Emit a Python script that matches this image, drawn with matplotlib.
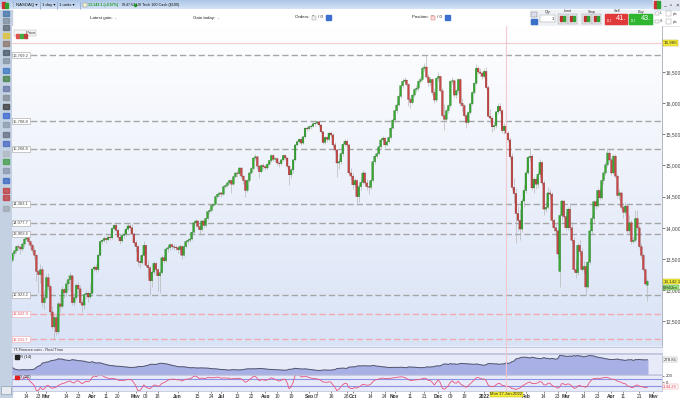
import numpy as np
import pandas as pd
import matplotlib
matplotlib.use('Agg')
import matplotlib.pyplot as plt
from matplotlib.colors import LinearSegmentedColormap
from matplotlib.patches import Rectangle

plt.rcParams['font.family'] = ['Liberation Sans', 'DejaVu Sans']

W, H = 680, 398
start_date = '2021-02-04'

opens = [
13480, 13590, 13630, 13700, 13690, 13660, 13740, 13820, 13860, 13780,
13720, 13640, 13560, 13300, 13250, 13330, 12800, 12880, 13200, 13060,
12650, 12410, 12560, 12330, 12780, 12740, 13010, 12960, 13100, 13170,
13230, 12800, 12880, 13080, 13020, 12800, 12760, 12930, 12950, 12890,
12950, 13340, 13370, 13330, 13560, 13780, 13800, 13830, 13810, 13850,
13840, 13990, 14040, 13960, 13850, 13790, 13880, 13900, 13980, 14030,
14000, 13900, 13760, 13700, 13460, 13440, 13560, 13720, 13400, 13360,
13150, 13290, 13430, 13330, 13230, 13280, 13520, 13470, 13660, 13680,
13730, 13700, 13690, 13680, 13650, 13700, 13560, 13700, 13780, 13800,
13820, 13930, 14080, 14110, 14020, 13970, 14110, 14040, 14150, 14260,
14280, 14360, 14380, 14500, 14540, 14560, 14540, 14660, 14680, 14720,
14760, 14700, 14820, 14880, 14870, 14960, 14830, 14760, 14600, 14760,
14880, 14950, 15120, 15140, 14990, 14900, 15000, 14980, 14960, 15020,
15080, 15160, 15100, 15110, 15040, 15030, 15090, 15160, 15120, 14990,
14850, 14930, 15090, 15330, 15380, 15420, 15360, 15460, 15600, 15590,
15620, 15630, 15670, 15680, 15700, 15650, 15540, 15370, 15450, 15420,
15520, 15490, 15330, 15250, 15040, 15060, 15190, 15340, 15390, 15330,
14880, 14830, 14690, 14760, 14500, 14660, 14730, 14880, 14720, 14660,
14650, 14760, 15060, 15150, 15190, 15300, 15410, 15440, 15330, 15380,
15450, 15600, 15730, 15880, 15970, 16110, 16280, 16350, 16370, 16300,
16060, 16010, 16130, 16220, 16240, 16350, 16380, 16560, 16580, 16420,
16330, 16380, 16170, 16050, 16400, 16430, 16200, 15800, 15740, 15880,
15960, 16350, 16360, 16130, 16200, 16380, 16000, 15960, 15800, 15690,
15850, 15990, 16170, 16320, 16560, 16500, 16480, 16430, 16510, 16250,
15790, 15760, 15620, 15640, 15860, 15950, 15880, 15560, 15630, 15520,
15410, 15140, 14650, 14550, 14230, 14120, 13980, 14430, 14600, 14880,
15130, 15150, 14640, 14780, 14700, 14860, 15050, 14720, 14300, 14330,
14560, 14540, 14120, 14000, 13950, 13300, 14200, 14430, 14180, 14000,
14300, 14000, 13800, 13330, 13280, 13720, 13620, 13330, 13380, 13050,
13450, 13950, 14150, 14420, 14350, 14600, 14480, 14760, 14880, 15010,
15200, 15090, 14880, 15150, 14830, 14520, 14560, 14330, 14250, 14350,
13950, 14080, 13780, 13800, 14150, 14000, 13700, 13560, 13330, 13080,
]

highs = [
13620, 13660, 13720, 13740, 13720, 13770, 13840, 13905, 13880, 13800,
13760, 13700, 13580, 13330, 13420, 13380, 13000, 13260, 13280, 13100,
12750, 12600, 12640, 12830, 12900, 13070, 13040, 13160, 13240, 13290,
13250, 12960, 13120, 13130, 13080, 12860, 12960, 13000, 12990, 13110,
13360, 13400, 13420, 13600, 13800, 13840, 13870, 13860, 13900, 13900,
14020, 14080, 14060, 13990, 13900, 13920, 13960, 14020, 14080, 14060,
14060, 13940, 13800, 13720, 13560, 13600, 13790, 13730, 13480, 13380,
13330, 13470, 13450, 13350, 13320, 13560, 13570, 13680, 13720, 13760,
13760, 13740, 13720, 13700, 13740, 13720, 13720, 13800, 13830, 13860,
13950, 14110, 14140, 14130, 14060, 14130, 14130, 14170, 14280, 14320,
14380, 14400, 14520, 14560, 14580, 14570, 14680, 14700, 14750, 14780,
14790, 14840, 14900, 14920, 14980, 14970, 14850, 14780, 14780, 14900,
14980, 15140, 15180, 15150, 15010, 15030, 15040, 15000, 15040, 15090,
15180, 15190, 15140, 15130, 15070, 15110, 15180, 15190, 15130, 15000,
14960, 15110, 15350, 15410, 15440, 15450, 15480, 15620, 15640, 15650,
15660, 15690, 15700, 15720, 15710, 15660, 15560, 15470, 15480, 15540,
15560, 15520, 15370, 15260, 15120, 15220, 15360, 15420, 15420, 15340,
14960, 14880, 14800, 14780, 14700, 14780, 14920, 14900, 14780, 14740,
14790, 15080, 15170, 15220, 15320, 15430, 15470, 15460, 15400, 15470,
15620, 15760, 15900, 16000, 16140, 16310, 16400, 16420, 16390, 16320,
16100, 16150, 16250, 16290, 16370, 16420, 16590, 16640, 16770, 16460,
16420, 16400, 16220, 16420, 16500, 16440, 16240, 15990, 15900, 15990,
16370, 16420, 16380, 16230, 16410, 16400, 16080, 15990, 15830, 15870,
16010, 16190, 16340, 16630, 16600, 16560, 16520, 16560, 16580, 16290,
15900, 15800, 15720, 15880, 16010, 16000, 15900, 15680, 15660, 15550,
15450, 15200, 14800, 14640, 14350, 14300, 14480, 14680, 14920, 15160,
15280, 15180, 14820, 14830, 14900, 15100, 15080, 14760, 14420, 14650,
14620, 14580, 14160, 14080, 14000, 14230, 14470, 14450, 14250, 14330,
14400, 14080, 13850, 13500, 13760, 13800, 13680, 13460, 13420, 13480,
13980, 14200, 14450, 14450, 14640, 14650, 14790, 14910, 15060, 15280,
15250, 15140, 15190, 15180, 14860, 14620, 14580, 14400, 14420, 14370,
14200, 14120, 13860, 14290, 14290, 14040, 13760, 13600, 13360, 13180,
]

lows = [
13450, 13540, 13600, 13640, 13580, 13630, 13700, 13800, 13740, 13660,
13600, 13500, 13150, 12960, 13120, 12730, 12700, 12860, 13000, 12600,
12380, 12210, 12280, 12300, 12650, 12720, 12880, 12900, 13010, 12990,
12760, 12740, 12850, 12960, 12770, 12650, 12700, 12870, 12810, 12870,
12940, 13300, 13290, 13310, 13540, 13740, 13770, 13760, 13790, 13800,
13820, 13960, 13930, 13800, 13740, 13770, 13840, 13870, 13950, 13960,
13880, 13720, 13620, 13380, 13350, 13420, 13540, 13380, 13200, 12925,
13050, 13260, 13250, 12980, 12960, 13260, 13440, 13450, 13620, 13650,
13660, 13650, 13640, 13600, 13620, 13500, 13540, 13680, 13740, 13770,
13800, 13910, 14050, 13980, 13880, 13950, 14000, 14020, 14130, 14220,
14260, 14330, 14360, 14480, 14500, 14500, 14530, 14640, 14660, 14700,
14560, 14690, 14800, 14820, 14850, 14800, 14700, 14500, 14580, 14740,
14860, 14930, 15090, 14950, 14800, 14880, 14940, 14920, 14940, 15000,
15060, 15080, 15050, 15010, 14980, 15010, 15070, 15090, 14960, 14690,
14800, 14880, 15070, 15310, 15360, 15330, 15340, 15440, 15560, 15570,
15590, 15610, 15640, 15660, 15620, 15520, 15340, 15350, 15380, 15400,
15460, 15300, 15220, 14820, 14950, 15020, 15150, 15320, 15290, 14860,
14760, 14620, 14660, 14400, 14420, 14600, 14700, 14680, 14600, 14540,
14620, 14740, 15030, 15120, 15170, 15270, 15380, 15300, 15310, 15360,
15430, 15580, 15700, 15850, 15950, 16090, 16250, 16300, 16270, 15950,
15930, 15990, 16100, 16180, 16200, 16320, 16360, 16520, 16400, 16280,
16280, 16130, 16000, 16020, 16350, 16180, 15770, 15570, 15690, 15840,
15940, 16300, 16100, 16080, 16170, 15960, 15870, 15780, 15600, 15660,
15830, 15970, 16150, 16300, 16460, 16440, 16380, 16400, 16230, 15770,
15680, 15540, 15570, 15600, 15830, 15850, 15520, 15500, 15170, 15380,
15100, 14600, 14400, 13760, 13950, 13800, 13940, 14330, 14560, 14860,
15080, 14600, 14560, 14620, 14640, 14820, 14690, 14200, 14260, 14300,
14460, 14080, 13950, 13850, 13520, 13050, 14130, 14150, 13960, 13970,
13960, 13760, 13300, 13200, 13250, 13560, 13300, 13280, 12920, 13030,
13420, 13900, 14100, 14300, 14330, 14450, 14460, 14700, 14850, 14980,
15050, 14850, 14860, 14800, 14480, 14450, 14300, 14160, 14200, 13920,
13900, 13740, 13760, 13780, 13960, 13680, 13520, 13300, 13080, 12820,
]

closes = [
13590, 13630, 13700, 13690, 13660, 13740, 13820, 13860, 13780, 13720,
13640, 13560, 13300, 13250, 13330, 12800, 12880, 13200, 13060, 12650,
12410, 12560, 12330, 12780, 12740, 13010, 12960, 13100, 13170, 13230,
12800, 12880, 13080, 13020, 12800, 12760, 12930, 12950, 12890, 12950,
13340, 13370, 13330, 13560, 13780, 13800, 13830, 13810, 13850, 13840,
13990, 14040, 13960, 13850, 13790, 13880, 13900, 13980, 14030, 14000,
13900, 13760, 13700, 13460, 13440, 13560, 13720, 13400, 13360, 13150,
13290, 13430, 13330, 13230, 13280, 13520, 13470, 13660, 13680, 13730,
13700, 13690, 13680, 13650, 13700, 13560, 13700, 13780, 13800, 13820,
13930, 14080, 14110, 14020, 13970, 14110, 14040, 14150, 14260, 14280,
14360, 14380, 14500, 14540, 14560, 14540, 14660, 14680, 14720, 14760,
14700, 14820, 14880, 14870, 14960, 14830, 14760, 14600, 14760, 14880,
14950, 15120, 15140, 14990, 14900, 15000, 14980, 14960, 15020, 15080,
15160, 15100, 15110, 15040, 15030, 15090, 15160, 15120, 14990, 14850,
14930, 15090, 15330, 15380, 15420, 15360, 15460, 15600, 15590, 15620,
15630, 15670, 15680, 15700, 15650, 15540, 15370, 15450, 15420, 15520,
15490, 15330, 15250, 15040, 15060, 15190, 15340, 15390, 15330, 14880,
14830, 14690, 14760, 14500, 14660, 14730, 14880, 14720, 14660, 14650,
14760, 15060, 15150, 15190, 15300, 15410, 15440, 15330, 15380, 15450,
15600, 15730, 15880, 15970, 16110, 16280, 16350, 16370, 16300, 16060,
16010, 16130, 16220, 16240, 16350, 16380, 16560, 16580, 16420, 16330,
16380, 16170, 16050, 16400, 16430, 16200, 15800, 15740, 15880, 15960,
16350, 16360, 16130, 16200, 16380, 16000, 15960, 15800, 15690, 15850,
15990, 16170, 16320, 16560, 16500, 16480, 16430, 16510, 16250, 15790,
15760, 15620, 15640, 15860, 15950, 15880, 15560, 15630, 15520, 15410,
15140, 14650, 14550, 14230, 14120, 13980, 14430, 14600, 14880, 15130,
15150, 14640, 14780, 14700, 14860, 15050, 14720, 14300, 14330, 14560,
14540, 14120, 14000, 13950, 13580, 14200, 14430, 14180, 14000, 14300,
14000, 13800, 13330, 13280, 13720, 13620, 13330, 13380, 13050, 13450,
13950, 14150, 14420, 14350, 14600, 14480, 14760, 14880, 15010, 15200,
15090, 14880, 15150, 14830, 14520, 14560, 14330, 14250, 14350, 13950,
14080, 13780, 13800, 14150, 14000, 13700, 13560, 13330, 13100, 13142.1,
]

level_grey = [16769.2, 15708.8, 15268.8, 14383.1, 14077.7, 13903.6, 12923.2]
level_pink = [12622.9, 12211.7]
price_ticks = [12500, 13000, 13500, 14000, 14500, 15000, 15500, 16000, 16500]
last_price = 13142.1
cursor_price = 16965
cursor_date = '2022-01-17'
atr_last_text = '278.85'
cci_last_text = '-144.29'
cci_ticks = [200, 0]

date_ticks = ['2021-02-14', '2021-02-23', '2021-03-01', '2021-03-14', '2021-03-23',
              '2021-04-01', '2021-04-11', '2021-04-20', '2021-05-01', '2021-05-09',
              '2021-05-18', '2021-06-01', '2021-06-15', '2021-06-24', '2021-07-01',
              '2021-07-13', '2021-07-22', '2021-08-01', '2021-08-10', '2021-08-19',
              '2021-09-01', '2021-09-07', '2021-09-16', '2021-09-28', '2021-10-01',
              '2021-10-14', '2021-10-24', '2021-11-01', '2021-11-11', '2021-11-21',
              '2021-12-01', '2021-12-09', '2021-12-19', '2022-01-01', '2022-02-01',
              '2022-02-14', '2022-02-23', '2022-03-01', '2022-03-14', '2022-03-23',
              '2022-04-01', '2022-04-11', '2022-04-21', '2022-05-01']
date_labels = ['14', '23', 'Mar', '14', '23', 'Apr', '11', '20', 'May', '09', '18',
               'Jun', '15', '24', 'Jul', '13', '22', 'Aug', '10', '19', 'Sep', '07',
               '16', '28', 'Oct', '14', '24', 'Nov', '11', '21', 'Dec', '09', '19',
               '2022', 'Feb', '14', '23', 'Mar', '14', '23', 'Apr', '11', '21', 'May']

O = np.array(opens, float)
Hi = np.array(highs, float)
Lo = np.array(lows, float)
C = np.array(closes, float)
n = len(C)
x = np.arange(n)

fig = plt.figure(figsize=(W / 100, H / 100), dpi=100)
fig.patch.set_facecolor('white')


def rect(x0, y0, x1, y1):
    return [x0 / W, 1 - y1 / H, (x1 - x0) / W, (y1 - y0) / H]


bg = fig.add_axes([0, 0, 1, 1], label='bg', zorder=0)
bg.set_xlim(0, W); bg.set_ylim(H, 0); bg.axis('off')

# --- window chrome ---
tb = LinearSegmentedColormap.from_list('tb', ['#a9c3e6', '#d4e3f6'])
bg.imshow(np.linspace(0, 1, 32).reshape(-1, 1), extent=[0, W, 9.5, 0], cmap=tb,
          aspect='auto', zorder=0)
bg.add_patch(Rectangle((653, 0), 27, 9.5, color='#dfe6ef', zorder=1))
bg.add_patch(Rectangle((0, 9.5), 12, H - 9.5, color='#c3d1e2', zorder=1))
bg.add_patch(Rectangle((12, 346), 650, 7, color='#eceff9', zorder=1))
bg.plot([12, 662], [346.5, 346.5], color='#b9c0d8', lw=0.6, zorder=2)
bg.plot([12, 662], [353, 353], color='#b9c0d8', lw=0.6, zorder=2)
bg.plot([0, 680], [26, 26], color='#d8dde6', lw=0.5, zorder=2)

# toolbar icons (left)
icon_y = [13, 20, 27, 35, 43, 52, 60, 70, 78, 88, 97, 106, 115, 124, 134, 143, 153,
          161, 170, 180, 190, 197, 208]
icon_c = ['#3a6ea5', '#7a8a9a', '#55606a', '#e0c020', '#8a7060', '#405060', '#8090a0',
          '#3070c0', '#3a7a3a', '#6070a0', '#808890', '#303030', '#3060d0', '#8898a8',
          '#606878', '#4060c0', '#b0b8c0', '#3a9a3a', '#8890a8', '#3060c0', '#c03030',
          '#c03030', '#a0a8b0']
for yy, cc in zip(icon_y, icon_c):
    bg.add_patch(Rectangle((3, yy - 2.5), 6, 5, color=cc, alpha=0.7, zorder=2))
bg.add_patch(Rectangle((1, 386), 10, 8, fc='#e8ecf2', ec='#8090a0', lw=0.4, zorder=2))

# title bar texts
bg.add_patch(Rectangle((2, 2), 3, 6, color='#d03030', zorder=2))
bg.add_patch(Rectangle((5, 3), 3, 5, color='#30a030', zorder=2))
bg.text(11, 5, '⋮', fontsize=3.5, va='center', color='#444', zorder=3)
tfs = 3.1
for tx, s in [(16, 'NASDAQ ▾'), (42, '1 day ▾'), (59, '1 units ▾')]:
    bg.text(tx, 5, s, fontsize=tfs, va='center', color='#111', zorder=3)
for sx in [40, 57, 80]:
    bg.plot([sx, sx], [1.5, 8.5], color='#7d96b8', lw=0.4, zorder=3)
bg.add_patch(Rectangle((82.5, 2.5), 4, 4.5, fc='#f4f4d0', ec='#888', lw=0.3, zorder=3))
bg.text(88.5, 5, '13,142.1 (+0.57%)', fontsize=2.6, va='center', color='#1e9a1e',
        fontweight='bold', zorder=3)
bg.text(121.5, 5, '09:47:57', fontsize=2.6, va='center', color='#111', zorder=3)
bg.plot([134.5], [5], marker='o', ms=1.5, color='#20a020', zorder=3)
bg.text(136.5, 5, 'US Tech 100 Cash ($100)', fontsize=2.7, va='center', color='#111',
        zorder=3)
bg.add_patch(Rectangle((654, 1), 3, 7, color='#d03030', zorder=3))
bg.add_patch(Rectangle((657, 1), 3, 7, color='#30a030', zorder=3))
bg.text(665, 5, '_', fontsize=4, va='center', ha='center', color='#333', zorder=3)
bg.text(671, 5, '▫', fontsize=4, va='center', ha='center', color='#333', zorder=3)
bg.text(677, 5, '×', fontsize=4.5, va='center', ha='center', color='#333', zorder=3)

# second row texts
rfs = 3.2
bg.text(90, 17.5, 'Latest gain:  -', fontsize=rfs, va='center', color='#222', zorder=3)
bg.text(193, 17.5, 'Gain today:  -', fontsize=rfs, va='center', color='#222', zorder=3)
bg.text(295, 17.5, 'Orders:  0', fontsize=rfs, va='center', color='#222', zorder=3)
bg.add_patch(Rectangle((312, 15.5), 4, 4, fc='#eee', ec='#999', lw=0.3, zorder=3))
bg.text(318, 17.5, '/ 0', fontsize=rfs, va='center', color='#222', zorder=3)
bg.add_patch(Rectangle((326, 15), 5, 5, color='#3b6fd0', zorder=3))
bg.text(412, 17.5, 'Position:  0', fontsize=rfs, va='center', color='#222', zorder=3)
bg.add_patch(Rectangle((431, 15.5), 4, 4, fc='#fdd', ec='#c66', lw=0.3, zorder=3))
bg.text(437, 17.5, '/ 0', fontsize=rfs, va='center', color='#222', zorder=3)
bg.add_patch(Rectangle((445, 15), 5, 5, color='#3b6fd0', zorder=3))
# trade panel
bg.add_patch(Rectangle((530, 9.5), 123, 16.5, color='#eef1f5', zorder=1))
bg.add_patch(Rectangle((531, 12), 6, 5, fc='#dde', ec='#777', lw=0.3, zorder=3))
bg.add_patch(Rectangle((531, 19), 6, 5, color='#3a70c8', zorder=3))
bg.text(548, 11.5, 'Qty', fontsize=2.8, ha='center', va='center', color='#333', zorder=3)
bg.add_patch(Rectangle((540, 14.5), 15, 7, fc='white', ec='#999', lw=0.3, zorder=3))
bg.text(554, 18.5, '1', fontsize=3, ha='right', va='center', color='#222', zorder=3)
bg.text(568, 11.5, 'Limit', fontsize=2.8, ha='center', va='center', color='#333', zorder=3)
bg.text(592, 11.5, 'Stop', fontsize=2.8, ha='center', va='center', color='#333', zorder=3)
for bx in [558, 568, 582, 592]:
    bg.add_patch(Rectangle((bx, 14), 9, 10, fc='#e4e7ea', ec='#999', lw=0.3, zorder=3))
    bg.add_patch(Rectangle((bx + 2, 16), 2, 5, color='#c03030', zorder=4))
    bg.add_patch(Rectangle((bx + 4.5, 16), 2, 5, color='#30a030', zorder=4))
bg.text(617, 11.5, 'Sell', fontsize=2.8, ha='center', va='center', color='#333', zorder=3)
bg.text(641, 11.5, 'Buy', fontsize=2.8, ha='center', va='center', color='#333', zorder=3)
bg.add_patch(Rectangle((605, 14), 22, 10, color='#e0393a', zorder=3))
bg.add_patch(Rectangle((629, 14), 23, 10, color='#2fb52f', zorder=3))
bg.text(606.5, 20.5, '13,1', fontsize=2.0, va='center', color='white', zorder=4)
bg.text(626, 19, '41.', fontsize=5.2, ha='right', va='center', color='white', zorder=4)
bg.text(630.5, 20.5, '13,1', fontsize=2.0, va='center', color='white', zorder=4)
bg.text(651, 19, '43.', fontsize=5.2, ha='right', va='center', color='white', zorder=4)
for yy, s in [(13.5, 'L'), (21.5, 'S')]:
    bg.add_patch(Rectangle((655, yy - 1.8), 3.5, 3.5, fc='white', ec='#888', lw=0.3, zorder=3))
    bg.text(660, yy, s, fontsize=2.6, va='center', color='#333', zorder=3)
    bg.add_patch(Rectangle((666, yy - 2.5), 5, 5, fc='white', ec='#999', lw=0.3, zorder=3))
    bg.text(672.5, yy, 'pts', fontsize=2.4, va='center', color='#333', zorder=3)

# --- main price chart ---
XL = (-0.25, 326.4)
YL = (12104, 17238)
ax = fig.add_axes(rect(12, 26, 662, 346), label='main', zorder=2)
ax.set_xlim(*XL); ax.set_ylim(*YL)
grad = LinearSegmentedColormap.from_list('g', ['#d9e3f6', '#ffffff'])
ax.imshow(np.linspace(0, 1, 256).reshape(-1, 1), extent=[XL[0], XL[1], YL[0], YL[1]],
          origin='lower', aspect='auto', cmap=grad, zorder=0)

for lv in level_grey:
    ax.axhline(lv, color='#a6a6a6', lw=1.0, dashes=(4.5, 2.2), zorder=1)
for lv in level_pink:
    ax.axhline(lv, color='#f0a8b2', lw=1.0, dashes=(4.5, 2.2), zorder=1)

up = C >= O
ax.vlines(x, Lo, Hi, colors='#b2b2b2', lw=0.45, zorder=2)
body_h = np.maximum(np.abs(C - O), 10)
ax.bar(x, body_h, bottom=np.minimum(O, C), width=0.9,
       color=np.where(up, '#33ab2e', '#cc4745'),
       edgecolor=np.where(up, '#1c5e1a', '#6e2220'), linewidth=0.2,
       snap=False, zorder=3)

ax.yaxis.tick_right()
ax.set_yticks(price_ticks)
ax.set_yticklabels([f'{t:,}' for t in price_ticks])
ax.tick_params(axis='y', labelsize=3.6, length=1.8, width=0.5, pad=1.0, colors='#444')
ax.set_xticks([])
for s in ['left', 'top', 'bottom']:
    ax.spines[s].set_visible(False)
ax.spines['right'].set_color('#a8adb8'); ax.spines['right'].set_linewidth(0.6)

ytr = ax.get_yaxis_transform()
for lv in level_grey:
    ax.text(0.0015, lv, f'{lv:,.1f}', transform=ytr, fontsize=3.0, va='center', ha='left',
            color='#444', zorder=6,
            bbox=dict(boxstyle='square,pad=0.25', fc='white', ec='#a0a0a0', lw=0.4))
for lv in level_pink:
    ax.text(0.0015, lv, f'{lv:,.1f}', transform=ytr, fontsize=3.0, va='center', ha='left',
            color='#e04c5c', zorder=6,
            bbox=dict(boxstyle='square,pad=0.25', fc='white', ec='#f0a8b2', lw=0.4))

ax.text(1.002, last_price, f'{last_price:,.1f}', transform=ytr, fontsize=3.2,
        va='center', ha='left', color='#222', clip_on=False, zorder=7,
        bbox=dict(boxstyle='square,pad=0.15', fc='#f5ef3a', ec='#b0a000', lw=0.3))
ax.text(1.002, last_price - 100, '09h52m', transform=ytr, fontsize=3.0,
        va='center', ha='left', color='#222', clip_on=False, zorder=7,
        bbox=dict(boxstyle='square,pad=0.15', fc='#9be07a', ec='#60a040', lw=0.3))
ax.text(1.002, cursor_price, f'{cursor_price:,}', transform=ytr, fontsize=3.2,
        va='center', ha='left', color='#222', clip_on=False, zorder=7,
        bbox=dict(boxstyle='square,pad=0.15', fc='#f5ef3a', ec='#b0a000', lw=0.3))

# legend "Price"
ax.text(0.004, 0.985, '          Price', transform=ax.transAxes, fontsize=3.0, va='top',
        ha='left', color='#333', zorder=7,
        bbox=dict(boxstyle='square,pad=0.25', fc='#f4f4f4', ec='#aaa', lw=0.3))
for k, cc in enumerate(['#e05050', '#40b040', '#c04040']):
    ax.add_patch(Rectangle((0.0055 + k * 0.0062, 0.962), 0.0045, 0.014,
                           transform=ax.transAxes, color=cc, zorder=8))

# --- indicator computations from candles ---
s_h, s_l, s_c = pd.Series(Hi), pd.Series(Lo), pd.Series(C)
prev_c = s_c.shift(1).fillna(s_c.iloc[0])
tr = pd.concat([s_h - s_l, (s_h - prev_c).abs(), (s_l - prev_c).abs()], axis=1).max(axis=1)
atr_v = tr.ewm(alpha=1 / 14, adjust=True).mean().values
tp = (s_h + s_l + s_c) / 3
sma = tp.rolling(20, min_periods=6).mean()
mdev = tp.rolling(20, min_periods=6).apply(lambda v: np.mean(np.abs(v - v.mean())), raw=True)
cci_v = ((tp - sma) / (0.015 * mdev)).values

# ATR pane
ax2 = fig.add_axes(rect(12, 353.5, 662, 373.5), label='atr', zorder=2)
ax2.set_facecolor('#e7eaf9')
ax2.set_xlim(*XL)
amin, amax = np.nanmin(atr_v), np.nanmax(atr_v)
span = amax - amin
ax2.set_ylim(amin - 0.2 * span, amax + 0.12 * span)
ax2.fill_between(x, atr_v, amin - span, color='#a9b0e6', zorder=1)
ax2.plot(x, atr_v, color='#50566c', lw=0.7, zorder=2)
ax2.set_xticks([]); ax2.set_yticks([])
for s in ax2.spines.values():
    s.set_color('#b4bbd6'); s.set_linewidth(0.5)
ax2.text(0.003, 0.93, ' ATR (14)', transform=ax2.transAxes, fontsize=3.0, va='top',
         color='#222', zorder=5)
ax2.add_patch(Rectangle((0.004, 0.72), 0.006, 0.2, transform=ax2.transAxes,
                        color='#222', zorder=5))
ax2.text(1.002, atr_v[-1], atr_last_text, transform=ax2.get_yaxis_transform(),
         fontsize=3.1, va='center', ha='left', color='#222', clip_on=False,
         bbox=dict(boxstyle='square,pad=0.15', fc='white', ec='#999', lw=0.3))
bg.text(14, 350, 'IT-Finance.com - Real Time', fontsize=2.9, va='center', color='#333', zorder=3)

# CCI pane
ax3 = fig.add_axes(rect(12, 374.5, 662, 391), label='cci', zorder=2)
ax3.set_facecolor('#e7eaf9')
ax3.set_xlim(*XL); ax3.set_ylim(-255, 230)
ax3.axhline(100, color='#8c94e2', lw=0.8, zorder=1)
ax3.axhline(-100, color='#8c94e2', lw=0.8, zorder=1)
ax3.plot(x, cci_v, color='#e8537c', lw=0.6, zorder=2)
for s in ax3.spines.values():
    s.set_color('#b4bbd6'); s.set_linewidth(0.5)
ax3.text(0.003, 0.97, ' CCI (20)', transform=ax3.transAxes, fontsize=3.0, va='top',
         color='#222', zorder=5)
ax3.add_patch(Rectangle((0.004, 0.7), 0.006, 0.2, transform=ax3.transAxes,
                        color='#e02020', zorder=5))
ax3.yaxis.tick_right()
ax3.set_yticks(cci_ticks)
ax3.set_yticklabels([str(t) for t in cci_ticks])
ax3.tick_params(axis='y', labelsize=3.1, length=1.5, width=0.4, pad=1, colors='#333')
ax3.text(1.002, -135, cci_last_text, transform=ax3.get_yaxis_transform(), fontsize=2.9,
         va='center', ha='left', color='#e03050', clip_on=False,
         bbox=dict(boxstyle='square,pad=0.12', fc='white', ec='#e88', lw=0.3))

tick_pos = [int(np.busday_count(start_date, d)) for d in date_ticks]
ax3.set_xticks(tick_pos)
ax3.set_xticklabels(date_labels)
ax3.tick_params(axis='x', labelsize=3.5, length=1.3, width=0.4, pad=0.6, colors='#333')
bold = {'Mar', 'Apr', 'May', 'Jun', 'Jul', 'Aug', 'Sep', 'Oct', 'Nov', 'Dec', 'Feb', '2022'}
for lab in ax3.get_xticklabels():
    if lab.get_text() in bold:
        lab.set_fontweight('bold')

cur_i = int(np.busday_count(start_date, cursor_date))
ax3.text(cur_i + 1.2, -0.07, 'Mon 17-Jan-2022', transform=ax3.get_xaxis_transform(),
         fontsize=3.0, ha='center', va='top', color='#222', clip_on=False, zorder=8,
         bbox=dict(boxstyle='square,pad=0.12', fc='#f5ef3a', ec='#b0a000', lw=0.3))

# crosshair
fg = fig.add_axes([0, 0, 1, 1], label='fg', zorder=5)
fg.set_xlim(0, W); fg.set_ylim(H, 0); fg.axis('off'); fg.patch.set_alpha(0)
cx = 12 + (cur_i + 1.2 - XL[0]) / (XL[1] - XL[0]) * 650
cy = 26 + (YL[1] - cursor_price) / (YL[1] - YL[0]) * 320
fg.plot([cx, cx], [26, 391], color='#f4c4ca', lw=0.8, alpha=0.9)
fg.plot([12, 662], [cy, cy], color='#f4c4ca', lw=0.8, alpha=0.9)

fig.savefig('out.png', dpi=100)
